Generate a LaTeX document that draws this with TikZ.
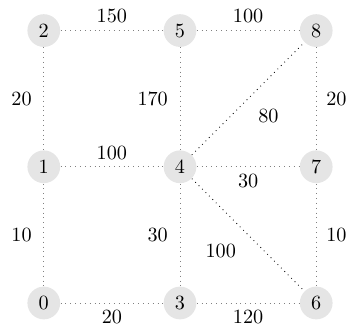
\documentclass[tikz,border=0pt]{standalone}
\usepackage{tikz}
\usetikzlibrary{positioning}

\begin{document}
\begin{tikzpicture}[
        x=2.37cm, y=2.37cm,
        vert/.style={circle, fill=gray!20, minimum size=0.57cm, inner sep=0pt},
        grid/.style={dotted, draw=gray},
        diag/.style={dotted, draw=black},
        wl/.style={left=2.5pt},
        wr/.style={right=1.5pt}
    ]
        \useasboundingbox (-0.762cm,-0.557cm) rectangle (5.328cm,5.272cm);

        % Vertices
        \node[vert] (n0) at (0,0) {0};
        \node[vert] (n3) at (1,0) {3};
        \node[vert] (n6) at (2,0) {6};
        \node[vert] (n1) at (0,1) {1};
        \node[vert] (n4) at (1,1) {4};
        \node[vert] (n7) at (2,1) {7};
        \node[vert] (n2) at (0,2) {2};
        \node[vert] (n5) at (1,2) {5};
        \node[vert] (n8) at (2,2) {8};

        % Horizontal edges
        \draw[grid] (n2) -- node[above] {150} (n5);
        \draw[grid] (n5) -- node[above] {100} (n8);
        \draw[grid] (n1) -- node[above] {100} (n4);
        \draw[grid] (n4) -- node[below] {30} (n7);
        \draw[grid] (n0) -- node[below] {20} (n3);
        \draw[grid] (n3) -- node[below] {120} (n6);

        % Vertical edges
        \draw[grid] (n2) -- node[wl] {20} (n1);
        \draw[grid] (n1) -- node[wl] {10} (n0);
        \draw[grid] (n5) -- node[wl] {170} (n4);
        \draw[grid] (n4) -- node[wl] {30} (n3);
        \draw[grid] (n8) -- node[wr] {20} (n7);
        \draw[grid] (n7) -- node[wr] {10} (n6);

        % Diagonals
        \draw[diag] (n4) -- node[below right=1.5pt and 1.5pt] {80} (n8);
        \draw[diag] (n4) -- node[below left=1pt and 2.5pt] {100} (n6);
    \end{tikzpicture}
\end{document}
